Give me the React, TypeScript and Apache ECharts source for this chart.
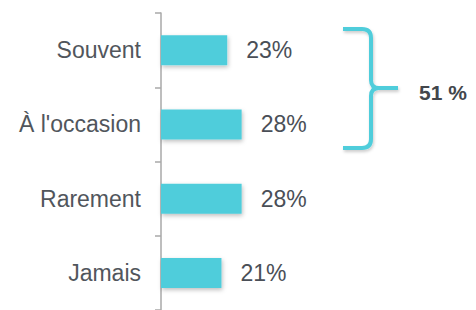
import React, { useEffect, useRef } from "react";
import * as echarts from "echarts";

const categories = ["Souvent", "À l'occasion", "Rarement", "Jamais"];
const values = [23, 28, 28, 21];
const braceLabel = "51 %";

const BRACE_D =
  "M343,29 L362,29 Q371,29 371,38 L371,80 Q371,88 379,88 L398,88 M379,88 Q371,88 371,96 L371,139 Q371,148 362,148 L343,148";

let registered = false;

export default function App() {
  const ref = useRef<HTMLDivElement>(null);
  useEffect(() => {
    if (!ref.current) return;
    if (!registered) {
      echarts.graphic.registerShape("brace", echarts.graphic.extendPath(BRACE_D, {}));
      registered = true;
    }
    const chart = echarts.init(ref.current, null, { renderer: "svg" });
    const font = "'Liberation Sans', Arial, sans-serif";
    chart.setOption({
      animation: false,
      grid: { left: 161, top: 13, height: 304, width: 288 },
      xAxis: { type: "value", min: 0, max: 100, show: false },
      yAxis: {
        type: "category",
        inverse: true,
        data: categories,
        axisLine: { show: true, lineStyle: { color: "#a8a8a8", width: 1.5 } },
        axisTick: {
          show: true,
          inside: false,
          alignWithLabel: false,
          length: 6,
          lineStyle: { color: "#a8a8a8", width: 1.5 },
        },
        axisLabel: {
          margin: 20,
          fontSize: 23,
          color: "#51565c",
          fontFamily: font,
          padding: [4, 0, 0, 0],
        },
        splitLine: { show: false },
      },
      series: [
        {
          type: "bar",
          data: values,
          barWidth: 30,
          itemStyle: {
            color: "#50CDDB",
            shadowColor: "rgba(0,0,0,0.25)",
            shadowBlur: 4,
            shadowOffsetX: 1,
            shadowOffsetY: 2,
          },
          label: {
            show: true,
            position: "right",
            distance: 19,
            formatter: "{c}%",
            fontSize: 23,
            color: "#4a4f57",
            fontFamily: font,
            padding: [4, 0, 0, 0],
          },
        },
      ],
      graphic: [
        {
          type: "brace",
          x: 0,
          y: 0,
          style: {
            fill: "none",
            stroke: "#50CDDB",
            lineWidth: 4,
            shadowColor: "rgba(0,0,0,0.2)",
            shadowBlur: 3,
            shadowOffsetX: 1,
            shadowOffsetY: 2,
          },
        },
        {
          type: "text",
          x: 419,
          y: 92,
          style: {
            text: braceLabel,
            fontSize: 21,
            fontWeight: "bold",
            fontFamily: font,
            fill: "#42464c",
            verticalAlign: "middle",
            align: "left",
          },
        },
      ],
    });
    return () => chart.dispose();
  }, []);
  return (
    <div
      ref={ref}
      style={{ position: "absolute", left: 0, top: 0, width: 476, height: 310 }}
    />
  );
}
